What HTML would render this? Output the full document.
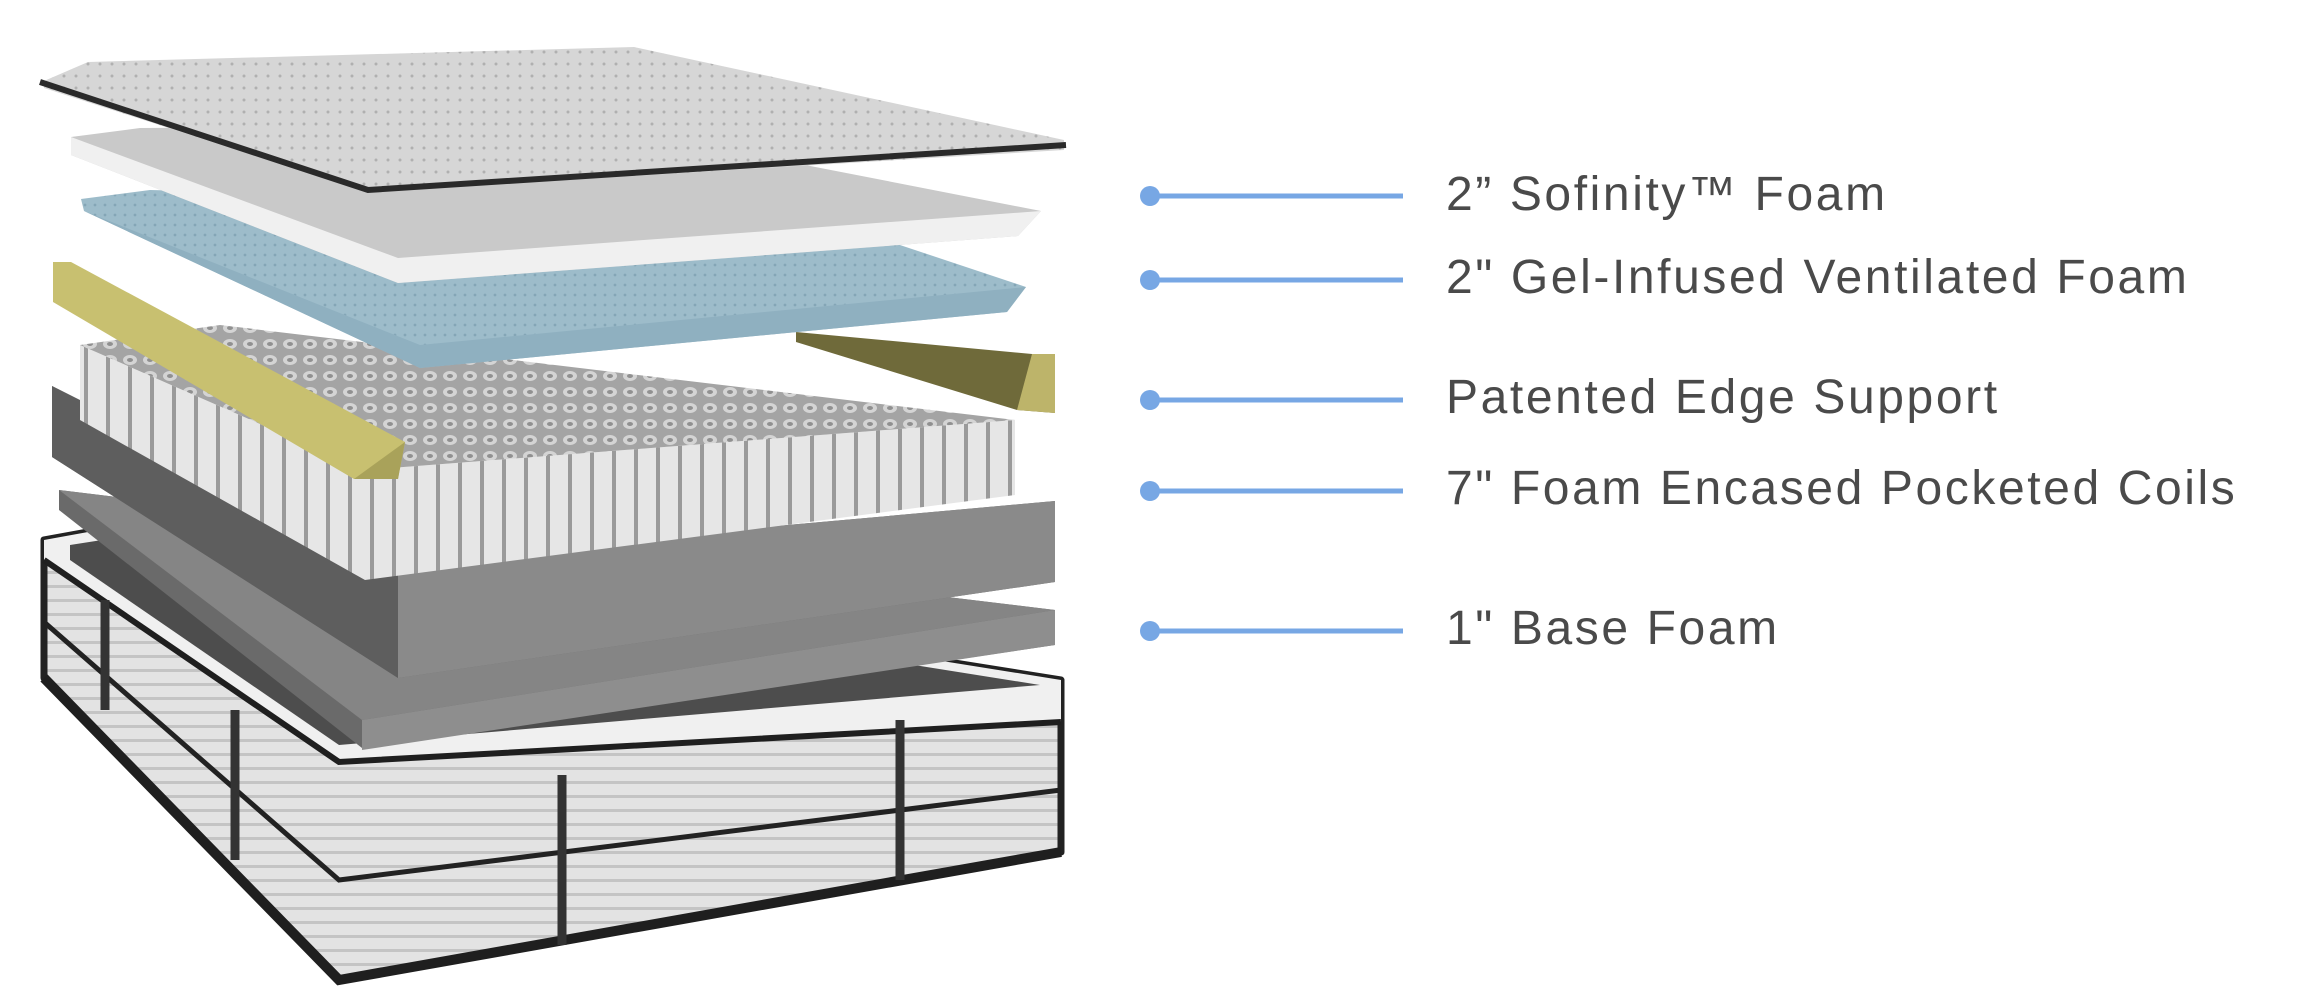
<!DOCTYPE html>
<html><head><meta charset="utf-8"><style>
html,body{margin:0;padding:0;background:#fff;}
.wrap{position:relative;width:2300px;height:1000px;overflow:hidden;background:#fff;}
.lbl{position:absolute;left:1446px;font-family:"Liberation Sans",sans-serif;font-size:48px;color:#4a4a4a;letter-spacing:2.6px;line-height:1;white-space:nowrap;}
</style></head><body><div class="wrap">
<svg width="2300" height="1000" viewBox="0 0 2300 1000" style="position:absolute;left:0;top:0">
<defs>
<pattern id="dots" width="12" height="12" patternUnits="userSpaceOnUse"><rect width="12" height="12" fill="#d6d6d6"/><circle cx="4" cy="4" r="1.5" fill="#b0b0b0"/></pattern>
<pattern id="gel" width="10" height="10" patternUnits="userSpaceOnUse"><rect width="10" height="10" fill="#9dbcca"/><circle cx="5" cy="5" r="1.4" fill="#84a6b6"/></pattern>
<pattern id="coiltop" width="20" height="16" patternUnits="userSpaceOnUse"><rect width="20" height="16" fill="#a4a4a4"/><ellipse cx="10" cy="8" rx="7" ry="5" fill="#d4d4d4"/><ellipse cx="10" cy="8" rx="3" ry="2" fill="#909090"/></pattern>
<pattern id="coilside" width="22" height="100" patternUnits="userSpaceOnUse"><rect width="22" height="100" fill="#e6e6e6"/><rect x="18" width="4" height="100" fill="#9a9a9a"/></pattern>
<pattern id="quilt" width="40" height="14" patternUnits="userSpaceOnUse"><rect width="40" height="14" fill="#e3e3e3"/><rect y="11" width="40" height="3" fill="#c4c4c4"/></pattern>
</defs>
<!-- bottom mattress -->
<polygon points="44,540 110,528 1061,680 1061,852 339,980 44,678" fill="url(#quilt)" stroke="#222" stroke-width="7" stroke-linejoin="round"/>
<polygon points="44,540 110,528 1061,680 1061,722 339,762 44,560" fill="#f0f0f0"/>
<polygon points="70,545 115,538 1040,685 339,745 70,560" fill="#4d4d4d"/>
<polyline points="44,560 339,762 1061,722" fill="none" stroke="#1f1f1f" stroke-width="6"/>
<polyline points="44,678 339,980 1061,852" fill="none" stroke="#1f1f1f" stroke-width="10"/>
<polyline points="44,622 339,880 1061,790" fill="none" stroke="#222" stroke-width="5"/>
<g stroke="#333" stroke-width="9" fill="none"><line x1="105" y1="600" x2="105" y2="710"/><line x1="235" y1="710" x2="235" y2="860"/><line x1="562" y1="775" x2="562" y2="945"/><line x1="900" y1="720" x2="900" y2="880"/></g>
<!-- base foam -->
<polygon points="59,490 1055,610 1055,645 362,748 59,510" fill="#6a6a6a"/>
<polygon points="59,490 1055,610 362,720" fill="#858585"/>
<polygon points="362,720 1055,610 1055,645 362,750" fill="#8e8e8e"/>
<!-- coil box -->
<polygon points="52,386 52,457 398,678 1055,582 1055,501 398,560" fill="#6d6d6d"/>
<polygon points="398,560 1055,501 1055,582 398,678" fill="#8a8a8a"/>
<polygon points="52,386 398,560 398,678 52,457" fill="#5e5e5e"/>
<polygon points="80,345 365,470 365,580 80,420" fill="url(#coilside)"/>
<polygon points="365,470 1015,420 1015,495 365,580" fill="url(#coilside)"/>
<polygon points="220,325 1015,420 365,470 80,345" fill="url(#coiltop)"/>
<!-- edge supports -->
<polygon points="796,332 1032,354 1055,354 1055,413 1017,410 796,342" fill="#6f6a3a"/>
<polygon points="1032,354 1055,354 1055,413 1017,410" fill="#bdb46a"/>
<polygon points="53,262 71,262 405,442 398,479 354,479 53,302" fill="#c8c070"/>
<polygon points="354,479 398,479 405,442" fill="#a9a25a"/>
<!-- gel layer -->
<polygon points="81,199 150,190 780,205 1026,287 1007,312 420,368 84,211" fill="url(#gel)"/>
<polygon points="84,211 420,345 1026,287 1007,312 420,368" fill="#8fb0c0"/>
<!-- sofinity -->
<polygon points="71,137 140,128 600,125 1041,211 1018,236 398,283 71,155" fill="#c9c9c9"/>
<polygon points="71,137 398,258 1041,211 1018,236 398,283 71,155" fill="#f0f0f0"/>
<!-- cover -->
<polygon points="44,81 88,62 634,47 1064,140 1064,150 368,192 44,88" fill="url(#dots)"/>
<polyline points="40,82 368,190 1066,145" fill="none" stroke="#2a2a2a" stroke-width="6"/>
<!-- callouts -->
<g stroke="#77a7e4" stroke-width="5" fill="#77a7e4">
<line x1="1150" y1="196" x2="1403" y2="196"/><circle cx="1150" cy="196" r="10" stroke="none"/>
<line x1="1150" y1="280" x2="1403" y2="280"/><circle cx="1150" cy="280" r="10" stroke="none"/>
<line x1="1150" y1="400" x2="1403" y2="400"/><circle cx="1150" cy="400" r="10" stroke="none"/>
<line x1="1150" y1="491" x2="1403" y2="491"/><circle cx="1150" cy="491" r="10" stroke="none"/>
<line x1="1150" y1="631" x2="1403" y2="631"/><circle cx="1150" cy="631" r="10" stroke="none"/>
</g>
</svg>
<div class="lbl" style="top:171px">2” Sofinity™ Foam</div>
<div class="lbl" style="top:254px">2" Gel-Infused Ventilated Foam</div>
<div class="lbl" style="top:374px">Patented Edge Support</div>
<div class="lbl" style="top:465px">7" Foam Encased Pocketed Coils</div>
<div class="lbl" style="top:605px">1" Base Foam</div>
</div></body></html>
